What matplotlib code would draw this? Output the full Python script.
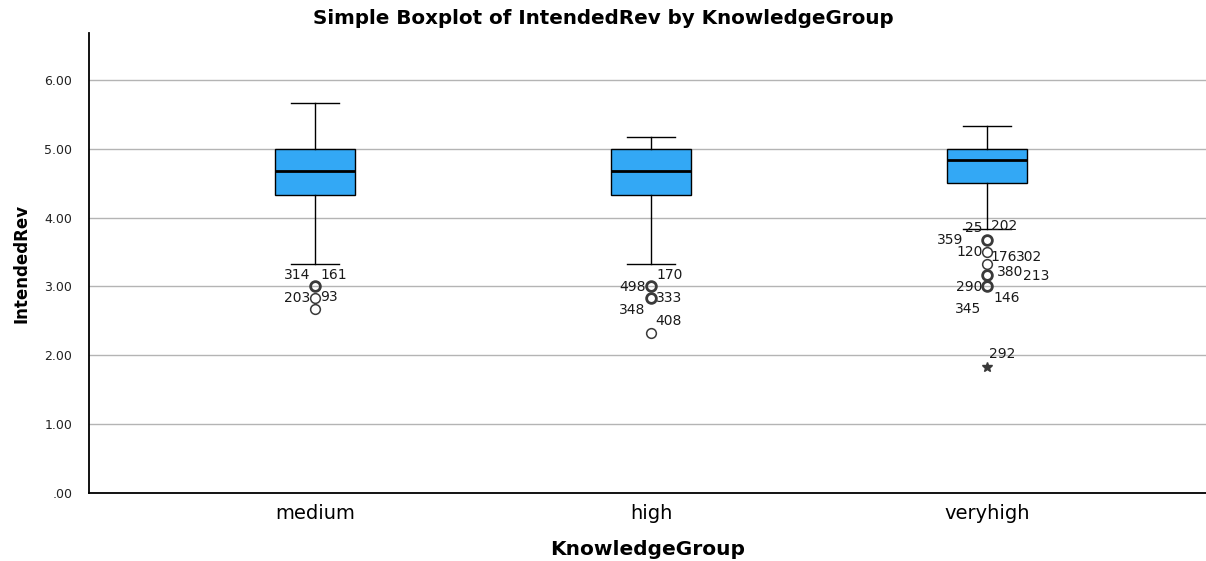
import matplotlib
matplotlib.use("Agg")
import matplotlib.pyplot as plt

# ---- data -------------------------------------------------------------
groups = ["medium", "high", "veryhigh"]
q1 = [4.33, 4.33, 4.50]
medians = [4.67, 4.67, 4.83]
q3 = [5.00, 5.00, 5.00]
whisker_low = [3.33, 3.33, 3.83]
whisker_high = [5.67, 5.17, 5.33]

# outliers: (value, case id) per group; None = unlabeled case
outliers_medium = [(3.00, "314"), (3.00, "161"), (2.83, "203"), (2.83, "93"), (2.67, None)]
outliers_high = [(3.00, "498"), (3.00, "170"), (2.83, "333"), (2.83, "348"), (2.33, "408")]
outliers_veryhigh = [(3.67, "25"), (3.67, "202"), (3.67, "359"),
                     (3.50, "120"), (3.50, "176"), (3.50, "302"),
                     (3.33, None),
                     (3.17, "380"), (3.17, "213"),
                     (3.00, "290"), (3.00, "146"), (3.00, "345")]
extremes_veryhigh = [(1.83, "292")]

y_ticks = [0, 1, 2, 3, 4, 5, 6]

# ---- styling ----------------------------------------------------------
box_color = "#33A8F5"
grid_color = "#b4b4b4"
outlier_edge = "#3a3a3a"

# values drawn with a heavier ring (several cases stacked)
heavy = {0: [3.00], 1: [3.00, 2.83], 2: [3.67, 3.17, 3.00]}

# label placement in pixels: (dx, dy, ha)
label_pos = {
    0: {"314": (-5, 11, "right"), "161": (5, 11, "left"),
        "203": (-5, 0, "right"), "93": (5, 1, "left")},
    1: {"498": (-5, -1, "right"), "170": (5, 11, "left"),
        "333": (5, 0, "left"), "348": (-6, -12, "right"),
        "408": (4, 12, "left")},
    2: {"25": (-4, 12, "right"), "202": (4, 14, "left"),
        "359": (-24, 0, "right"), "120": (-4, 0, "right"),
        "176": (3, -5, "left"), "302": (29, -5, "left"),
        "380": (10, 3, "left"), "213": (36, -1, "left"),
        "290": (-5, -1, "right"), "146": (6, -12, "left"),
        "345": (-6, -23, "right"), "292": (2, 13, "left")},
}
label_size = 10

plt.rcParams["font.family"] = ["DejaVu Sans"]

fig = plt.figure(figsize=(12.06, 5.61), dpi=100)
ax = fig.add_axes([89 / 1206, 1 - 493 / 561, 1 - 89 / 1206, (493 - 33) / 561])

positions = [1, 2, 3]
stats = []
for i, g in enumerate(groups):
    stats.append({
        "label": g, "q1": q1[i], "med": medians[i], "q3": q3[i],
        "whislo": whisker_low[i], "whishi": whisker_high[i], "fliers": [],
    })

ax.bxp(stats, positions=positions, widths=0.24, patch_artist=True,
       showfliers=False, capwidths=0.145,
       boxprops=dict(facecolor=box_color, edgecolor="black", linewidth=1.0),
       medianprops=dict(color="black", linewidth=2.0),
       whiskerprops=dict(color="black", linewidth=1.0),
       capprops=dict(color="black", linewidth=1.0),
       zorder=3)

all_outliers = [outliers_medium, outliers_high, outliers_veryhigh]
for i, pts in enumerate(all_outliers):
    x = positions[i]
    values = sorted({v for v, _ in pts})
    for v in values:
        lw = 2.0 if v in heavy.get(i, []) else 1.1
        ax.plot([x], [v], marker="o", markersize=7, markerfacecolor="none",
                markeredgecolor=outlier_edge, markeredgewidth=lw,
                linestyle="none", zorder=4)
    for v, cid in pts:
        if cid is None:
            continue
        dx, dy, ha = label_pos[i][cid]
        ax.annotate(cid, (x, v), xytext=(dx, dy), textcoords="offset pixels",
                    ha=ha, va="center", fontsize=label_size, color="#1a1a1a", zorder=5)

for v, cid in extremes_veryhigh:
    ax.plot([3], [v], marker="*", markersize=7, color=outlier_edge,
            linestyle="none", zorder=4)
    dx, dy, ha = label_pos[2][cid]
    ax.annotate(cid, (3, v), xytext=(dx, dy), textcoords="offset pixels",
                ha=ha, va="center", fontsize=label_size, color="#1a1a1a", zorder=5)

# axes
ax.set_xlim(0.327, 3.652)
ax.set_ylim(0, 6.68)
ax.set_yticks(y_ticks)
ax.set_yticklabels([f"{t:.2f}".lstrip("0") if t == 0 else f"{t:.2f}" for t in y_ticks],
                   fontsize=9, color="#222222")
ax.set_xticks(positions)
ax.set_xticklabels(groups, fontsize=14)
ax.tick_params(axis="y", length=0, pad=12)
ax.tick_params(axis="x", length=0, pad=8)
ax.yaxis.grid(True, color=grid_color, linewidth=1.0, zorder=0)
ax.set_axisbelow(True)
for s in ["top", "right"]:
    ax.spines[s].set_visible(False)
for s in ["left", "bottom"]:
    ax.spines[s].set_linewidth(1.3)
    ax.spines[s].set_color("black")

ax.set_xlabel("KnowledgeGroup", fontsize=14.5, fontweight="bold", labelpad=12)
ax.set_ylabel("IntendedRev", fontsize=12, fontweight="bold", labelpad=10)
fig.text(0.5, 1 - 18 / 561, "Simple Boxplot of IntendedRev by KnowledgeGroup",
         ha="center", va="center", fontsize=14.3, fontweight="bold")

fig.savefig("out.png", dpi=100)
